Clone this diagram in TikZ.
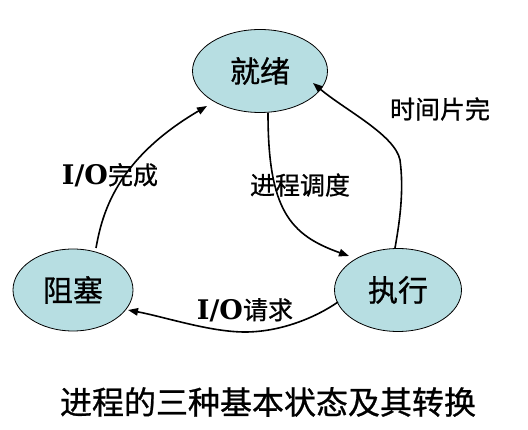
\documentclass[tikz,border=0pt]{standalone}
\usepackage{fontspec}
\setmainfont{Noto Sans CJK SC}[FakeBold=0.8]
\newfontfamily\latinb{DejaVu Serif}
\usetikzlibrary{shapes.geometric,arrows.meta,calc}
\definecolor{statefill}{RGB}{183,222,226}
\begin{document}
\begin{tikzpicture}[x=1pt,y=-1pt,
  state/.style={ellipse,draw=black,line width=0.8pt,fill=statefill,inner sep=0pt,font=\fontsize{30}{30}\selectfont},
  trans/.style={-{Triangle[length=10pt,width=7.5pt]},line width=1.6pt},
  lbl/.style={font=\fontsize{25}{25}\selectfont,inner sep=0pt},
  iotext/.style={font=\latinb\bfseries\fontsize{27}{27}\selectfont}]
\useasboundingbox (0,0) rectangle (528,430);
\node[state,minimum width=135pt,minimum height=83pt] (jx) at (260,71) {就绪};
\node[state,minimum width=120pt,minimum height=82pt] (zs) at (73,290) {阻塞};
\node[state,minimum width=127pt,minimum height=83pt] (zx) at (398,290) {执行};
% blocked -> ready
\draw[trans] ($(zs.center)+(23,-42)$) .. controls (102,215) and (115,160) .. ($(jx.center)+(-53,35)$);
% ready -> running
\draw[trans] ($(jx.center)+(8,42)$) .. controls (268,210) and (290,235) .. ($(zx.center)+(-49,-34)$);
% running -> ready
\draw[trans] ($(zx.center)+(-3,-42)$) .. controls (400,220) and (404,190) .. (400,160)
  .. controls (395,135) and (345,110) .. ($(jx.center)+(53,12)$);
% running -> blocked
\draw[trans] ($(zx.center)+(-60,12)$) .. controls (315,318) and (280,332) .. (245,332)
  .. controls (210,332) and (165,317) .. ($(zs.center)+(55,20)$);
\node[lbl] (l1) at (110,175) {{\latinb\bfseries\fontsize{27}{27}\selectfont I/O}完成};
\node[lbl] (l2) at (300,185) {进程调度};
\node[lbl] (l3) at (440,109) {时间片完};
\node[lbl] (l4) at (245,310) {{\latinb\bfseries\fontsize{27}{27}\selectfont I/O}请求};
\node[font=\fontsize{32}{32}\selectfont,inner sep=0pt] (title) at (268,402) {进程的三种基本状态及其转换};
\end{tikzpicture}
\end{document}
